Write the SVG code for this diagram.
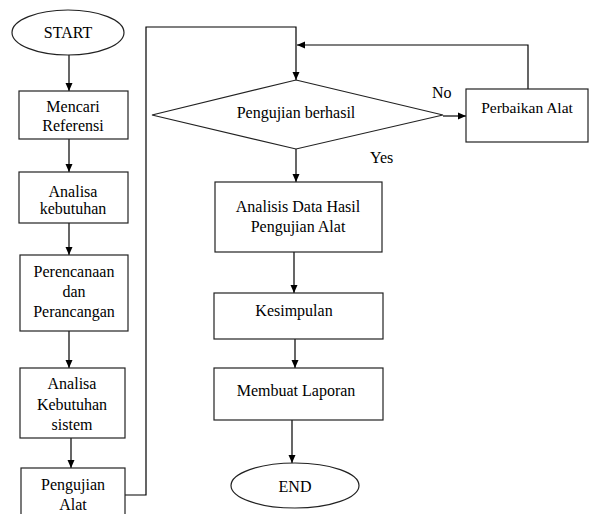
<svg xmlns="http://www.w3.org/2000/svg" width="589" height="514" viewBox="0 0 589 514" font-family="'Liberation Serif', 'Times New Roman', 'DejaVu Serif', serif">
<defs>
<marker id="ah" markerWidth="8" markerHeight="8" refX="8" refY="4" orient="auto" markerUnits="userSpaceOnUse">
<path d="M0,0.5 L8,4 L0,7.5 Z" fill="#000"/>
</marker>
</defs>
<style>
.s{fill:#fff;stroke:#222;stroke-width:1.2}
.c{fill:none;stroke:#000;stroke-width:1.2}
text{font-family:'Liberation Serif','Times New Roman',serif;font-size:16px;fill:#000;text-anchor:middle}
.l{text-anchor:start}
</style>
<rect width="589" height="514" fill="#fff"/>
<g id="connectors">
<path class="c" d="M69,55 V91" marker-end="url(#ah)"/>
<path class="c" d="M69,139 V172" marker-end="url(#ah)"/>
<path class="c" d="M69,223 V255" marker-end="url(#ah)"/>
<path class="c" d="M69,331 V368" marker-end="url(#ah)"/>
<path class="c" d="M71,438 V468" marker-end="url(#ah)"/>
<path class="c" d="M125,495 H146 V27 H296 V80" marker-end="url(#ah)"/>
<path class="c" d="M528,89 V45 H297" marker-end="url(#ah)"/>
<path class="c" d="M443,116 H466" marker-end="url(#ah)"/>
<path class="c" d="M296,149 V182" marker-end="url(#ah)"/>
<path class="c" d="M294,252 V293" marker-end="url(#ah)"/>
<path class="c" d="M295,339 V368" marker-end="url(#ah)"/>
<path class="c" d="M292,420 V463" marker-end="url(#ah)"/>
<text class="l" x="432" y="98">No</text>
<text class="l" x="370" y="163">Yes</text>
</g>
<g id="start">
<ellipse class="s" cx="68" cy="32.5" rx="56" ry="22.5"/>
<text x="68" y="38">START</text>
</g>
<g id="mencari">
<rect class="s" x="19" y="91" width="109" height="48"/>
<text x="73" y="112">Mencari</text>
<text x="73" y="131">Referensi</text>
</g>
<g id="analisa1">
<rect class="s" x="19" y="172" width="109" height="51"/>
<text x="73" y="197">Analisa</text>
<text x="73" y="214">kebutuhan</text>
</g>
<g id="perencanaan">
<rect class="s" x="20" y="255" width="108" height="76"/>
<text x="74" y="277">Perencanaan</text>
<text x="74" y="297">dan</text>
<text x="74" y="317">Perancangan</text>
</g>
<g id="analisa2">
<rect class="s" x="20" y="368" width="105" height="70"/>
<text x="72" y="389">Analisa</text>
<text x="72" y="410">Kebutuhan</text>
<text x="72" y="430">sistem</text>
</g>
<g id="pengujian">
<rect class="s" x="21" y="468" width="104" height="52"/>
<text x="73" y="490">Pengujian</text>
<text x="73" y="510">Alat</text>
</g>
<g id="decision">
<polygon class="s" points="296,80 443,115 296,149 152,115"/>
<text x="296" y="118">Pengujian berhasil</text>
</g>
<g id="perbaikan">
<rect class="s" x="466" y="89" width="122" height="53"/>
<text x="527" y="113" style="font-size:15.5px">Perbaikan Alat</text>
</g>
<g id="analisis">
<rect class="s" x="215" y="182" width="167" height="70"/>
<text x="298" y="212">Analisis Data Hasil</text>
<text x="298" y="232">Pengujian Alat</text>
</g>
<g id="kesimpulan">
<rect class="s" x="214" y="293" width="169" height="46"/>
<text x="294" y="316">Kesimpulan</text>
</g>
<g id="laporan">
<rect class="s" x="214" y="368" width="169" height="52"/>
<text x="296" y="396">Membuat Laporan</text>
</g>
<g id="end">
<ellipse class="s" cx="295" cy="485.5" rx="64" ry="22.5"/>
<text x="295" y="492">END</text>
</g>
</svg>
